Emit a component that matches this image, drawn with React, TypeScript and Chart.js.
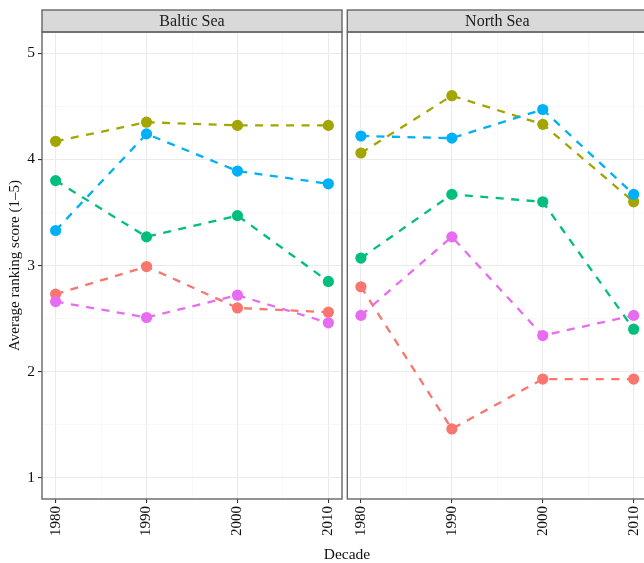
import React, { useEffect, useRef } from "react";
import { Chart, registerables } from "chart.js";

Chart.register(...registerables);

// ---- data ----
const DECADES = [1980, 1990, 2000, 2010];
const X_GRID = [1980, 1985, 1990, 1995, 2000, 2005, 2010];
const Y_GRID = [1, 1.5, 2, 2.5, 3, 3.5, 4, 4.5, 5];
const Y_LABELS = [1, 2, 3, 4, 5];

const SERIES_NAMES = ["Group A", "Group B", "Group C", "Group D", "Group E"];
const SERIES_COLORS = ["#F8766D", "#A3A500", "#00BF7D", "#00B0F6", "#E76BF3"];

const BALTIC_A = [2.73, 2.99, 2.6, 2.56];
const BALTIC_B = [4.17, 4.35, 4.32, 4.32];
const BALTIC_C = [3.8, 3.27, 3.47, 2.85];
const BALTIC_D = [3.33, 4.24, 3.89, 3.77];
const BALTIC_E = [2.66, 2.51, 2.72, 2.46];

const NORTH_A = [2.8, 1.46, 1.93, 1.93];
const NORTH_B = [4.06, 4.6, 4.33, 3.6];
const NORTH_C = [3.07, 3.67, 3.6, 2.4];
const NORTH_D = [4.22, 4.2, 4.47, 3.67];
const NORTH_E = [2.53, 3.27, 2.34, 2.53];

const BALTIC = [BALTIC_A, BALTIC_B, BALTIC_C, BALTIC_D, BALTIC_E];
const NORTH = [NORTH_A, NORTH_B, NORTH_C, NORTH_D, NORTH_E];

const FONT = "'Liberation Serif', 'DejaVu Serif', 'Times New Roman', serif";
const BORDER = "#666666";

function makeDatasets(values: number[][]) {
  const lines = values.map((vals, i) => ({
    label: SERIES_NAMES[i],
    data: DECADES.map((d, j) => ({ x: d, y: vals[j] })),
    borderColor: SERIES_COLORS[i],
    backgroundColor: SERIES_COLORS[i],
    borderWidth: 2.3,
    borderDash: [8, 7.5],
    pointRadius: 0,
    showLine: true,
    fill: false,
    tension: 0,
    order: 100 - i,
  }));
  const points = values.map((vals, i) => ({
    label: SERIES_NAMES[i] + " points",
    data: DECADES.map((d, j) => ({ x: d, y: vals[j] })),
    borderColor: SERIES_COLORS[i],
    backgroundColor: SERIES_COLORS[i],
    borderWidth: 0,
    pointRadius: 5.6,
    pointBorderWidth: 0,
    showLine: false,
    order: 50 - i,
  }));
  return [...lines, ...points];
}

const panelPlugin = {
  id: "panelDecor",
  afterDraw(chart: any, _args: any, opts: any) {
    const { ctx, chartArea } = chart;
    const { left, right, top, bottom } = chartArea;
    ctx.save();
    // strip
    const stripH = 22;
    ctx.fillStyle = "#D9D9D9";
    ctx.fillRect(left, top - stripH, right - left, stripH);
    ctx.strokeStyle = BORDER;
    ctx.lineWidth = 1.4;
    ctx.strokeRect(left, top - stripH, right - left, stripH);
    ctx.fillStyle = "#1a1a1a";
    ctx.font = `16px ${FONT}`;
    ctx.textAlign = "center";
    ctx.textBaseline = "middle";
    ctx.fillText(opts.title, (left + right) / 2, top - stripH / 2 + 0.5);
    // panel border
    ctx.strokeStyle = BORDER;
    ctx.lineWidth = 1.4;
    ctx.strokeRect(left, top, right - left, bottom - top);
    ctx.restore();
  },
};

function Facet(props: {
  title: string;
  values: number[][];
  showY: boolean;
  left: number;
  width: number;
  padLeft: number;
  padRight: number;
}) {
  const ref = useRef<HTMLCanvasElement | null>(null);
  useEffect(() => {
    if (!ref.current) return;
    const isMajorX = (v: number) => DECADES.includes(v);
    const isMajorY = (v: number) => Y_LABELS.includes(v);
    const chart = new Chart(ref.current, {
      type: "scatter",
      data: { datasets: makeDatasets(props.values) as any },
      plugins: [panelPlugin],
      options: {
        animation: false,
        responsive: false,
        events: [],
        layout: {
          autoPadding: false,
          padding: { left: props.padLeft, right: props.padRight, top: 32, bottom: 0 },
        },
        plugins: {
          legend: { display: false },
          tooltip: { enabled: false },
          panelDecor: { title: props.title },
        } as any,
        scales: {
          x: {
            type: "linear",
            min: 1978.5,
            max: 2011.5,
            afterBuildTicks: (s: any) => {
              s.ticks = X_GRID.map((v) => ({ value: v }));
            },
            afterFit: (s: any) => {
              s.height = 64;
              s.paddingLeft = 0;
              s.paddingRight = 0;
            },
            border: { display: false },
            grid: {
              drawTicks: true,
              tickLength: 4,
              color: (c: any) => (c.tick && isMajorX(c.tick.value) ? "#EBEBEB" : "#F4F4F4"),
              lineWidth: (c: any) => (c.tick && isMajorX(c.tick.value) ? 1.1 : 0.6),
              tickColor: (c: any) => (c.tick && isMajorX(c.tick.value) ? "#333333" : "rgba(0,0,0,0)"),
              tickWidth: 1.1,
            },
            ticks: {
              autoSkip: false,
              minRotation: 90,
              maxRotation: 90,
              padding: 3,
              color: "#111111",
              font: { family: FONT, size: 15 },
              callback: (v: any) => (isMajorX(Number(v)) ? String(v) : ""),
            },
          },
          y: {
            type: "linear",
            min: 0.8,
            max: 5.2,
            afterBuildTicks: (s: any) => {
              s.ticks = Y_GRID.map((v) => ({ value: v }));
            },
            afterFit: (s: any) => {
              s.width = props.showY ? 42 : 0;
              s.paddingTop = 0;
              s.paddingBottom = 0;
            },
            border: { display: false },
            title: {
              display: props.showY,
              text: "Average ranking score (1–5)",
              color: "#111111",
              font: { family: FONT, size: 15 },
              padding: { top: 6, bottom: 0 },
            },
            grid: {
              drawTicks: props.showY,
              tickLength: 4,
              color: (c: any) => (c.tick && isMajorY(c.tick.value) ? "#EBEBEB" : "#F4F4F4"),
              lineWidth: (c: any) => (c.tick && isMajorY(c.tick.value) ? 1.1 : 0.6),
              tickColor: (c: any) => (c.tick && isMajorY(c.tick.value) ? "#333333" : "rgba(0,0,0,0)"),
              tickWidth: 1.1,
            },
            ticks: {
              display: props.showY,
              autoSkip: false,
              padding: 3,
              color: "#111111",
              font: { family: FONT, size: 15.5 },
              callback: (v: any) => (isMajorY(Number(v)) ? String(v) : ""),
            },
          },
        },
      } as any,
    });
    return () => chart.destroy();
  }, []);
  return (
    <canvas
      ref={ref}
      width={props.width}
      height={563}
      style={{
        position: "absolute",
        left: props.left,
        top: 0,
        width: props.width,
        height: 563,
        display: "block",
      }}
    />
  );
}

export default function App() {
  return (
    <div
      style={{
        position: "absolute",
        left: 0,
        top: 0,
        width: 644,
        height: 563,
        overflow: "hidden",
        background: "#ffffff",
      }}
    >
      <Facet title="Baltic Sea" values={BALTIC} showY={true} left={0} width={345} padLeft={0} padRight={3} />
      <Facet title="North Sea" values={NORTH} showY={false} left={345} width={305} padLeft={2.3} padRight={2.7} />
      <div
        style={{
          position: "absolute",
          left: 0,
          width: 694,
          top: 545,
          textAlign: "center",
          fontFamily: FONT,
          fontSize: 15.5,
          color: "#111111",
          lineHeight: "18px",
        }}
      >
        Decade
      </div>
    </div>
  );
}
